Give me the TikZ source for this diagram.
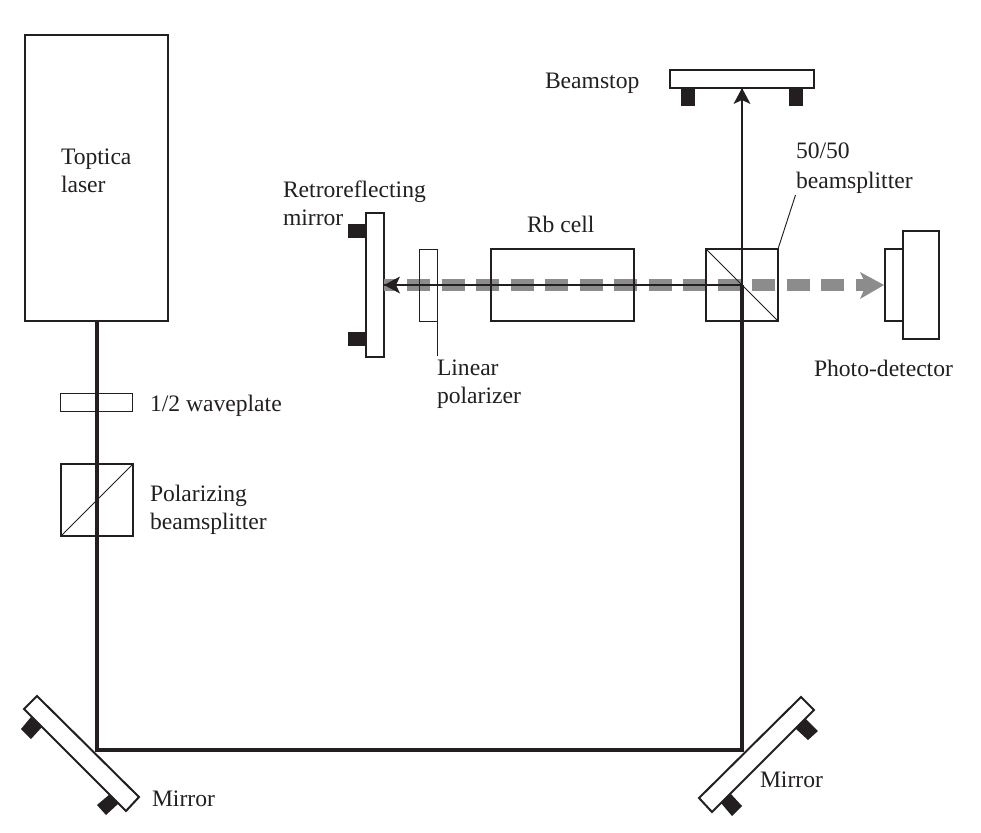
\documentclass[tikz,border=0pt]{standalone}
\usepackage{fontspec}
\setmainfont{Liberation Serif}
\definecolor{ink}{HTML}{231F20}
\definecolor{beamgray}{HTML}{8C8C8C}
\tikzset{
  x=0.75pt,y=-0.75pt,
  txt/.style={anchor=base west,inner sep=0pt,outer sep=0pt,text=ink,font=\fontsize{17.7}{21}\selectfont},
  part/.style={draw=ink,line width=1.5pt,fill=white,inner sep=0pt,outer sep=0pt},
  thinpart/.style={draw=ink,line width=0.6pt,inner sep=0pt,outer sep=0pt},
  block/.style={fill=ink,draw=none},
  mirrorbody/.style={draw=ink,line width=1.5pt,fill=white},
  beam/.style={draw=ink,line width=3pt,line join=miter},
  thinbeam/.style={draw=ink,line width=1.5pt},
  head/.style={fill=ink,draw=none},
  leader/.style={draw=ink,line width=0.7pt},
}
\begin{document}
\begin{tikzpicture}
\useasboundingbox (0,0) rectangle (981,832);
% coordinates
\coordinate (laserout) at (97,321);
\coordinate (cornerL) at (97,750);
\coordinate (cornerR) at (742,750);
\coordinate (split) at (742,285);
\coordinate (stoptip) at (742,88);
\coordinate (retrotip) at (384,285);
\coordinate (grayend) at (870,285);
% mounts
\fill[block] (348,224) rectangle (365,238);
\fill[block] (348,332) rectangle (365,346);
\fill[block] (681,88) rectangle (695,106);
\fill[block] (789,88) rectangle (803,106);
\fill[block] (31,717) -- (42,727) -- (31,739) -- (21,729) -- cycle;
\fill[block] (110,794) -- (119,803) -- (106,815) -- (97,805) -- cycle;
\fill[block] (805,718) -- (818,731) -- (808,740) -- (795,728) -- cycle;
\fill[block] (721,803) -- (730,793) -- (742,806) -- (732,816) -- cycle;
% boxes
\node[part,minimum width=107.25pt,minimum height=214.5pt] (laser) at (96.5,178) {};
\node[part,minimum width=13.5pt,minimum height=108pt] (retro) at (374.5,285) {};
\node[part,minimum width=107.25pt,minimum height=54pt] (rb) at (562.5,285) {};
\node[part,minimum width=108pt,minimum height=13.5pt] (stop) at (742,79) {};
\node[part,minimum width=13.5pt,minimum height=54pt] (det) at (894,285) {};
\node[part,minimum width=27pt,minimum height=81pt] (detbig) at (921,285) {};
\draw[mirrorbody] (37,696) -- (24,709) -- (126,811) -- (139,797) -- cycle;
\draw[mirrorbody] (801,697) -- (814,710) -- (712,812) -- (699,798) -- cycle;
% gray beam
\draw[beamgray,line width=9pt,dash pattern=on 17.25pt off 8.625pt,dash phase=8.625pt] (retrotip) -- (grayend);
\fill[beamgray] (884,285) -- (860,272) -- (866,285) -- (860,299) -- cycle;
% optics outlines
\node[thinpart,minimum width=53.5pt,minimum height=13.5pt] (wave) at (96.5,402) {};
\node[part,minimum width=54pt,minimum height=54pt] (pbs) at (97,500) {};
\node[thinpart,minimum width=13.5pt,minimum height=54pt] (pol) at (428,285) {};
\node[part,fill=none,minimum width=54pt,minimum height=54pt] (bs) at (742,285) {};
\node[part,fill=none,minimum width=107.25pt,minimum height=54pt] (rbo) at (562.5,285) {};
\draw[leader] (pbs.south west) -- (pbs.north east);
\draw[leader] (bs.north west) -- (bs.south east);
% beams
\draw[beam] (laserout) -- (cornerL) -- (cornerR) -- (split);
\draw[thinbeam] (split) -- (stoptip);
\draw[thinbeam] (split) -- (retrotip);
\fill[head] (stoptip) -- (733.5,104) -- (742,100) -- (750.5,104) -- cycle;
\fill[head] (retrotip) -- (400,276.5) -- (396,285) -- (400,293.5) -- cycle;
% leaders
\coordinate (polfoot) at (437,356);
\coordinate (bsfoot) at (795.5,195);
\draw[leader] (pol.south east) -- (polfoot);
\draw[leader] (bs.north east) -- (bsfoot);
% labels
\node[txt] (t1) at (61,164) {Toptica};
\node[txt] (t2) at (61,192.5) {laser};
\node[txt] (t3) at (545,88) {Beamstop};
\node[txt] (t4) at (283,197) {Retroreflecting};
\node[txt] (t5) at (283,225) {mirror};
\node[txt] (t6) at (527,232) {Rb cell};
\node[txt] (t7) at (796,158.5) {50/50};
\node[txt] (t8) at (796,188.5) {beamsplitter};
\node[txt] (t9) at (814,376) {Photo-detector};
\node[txt] (t10) at (437,375) {Linear};
\node[txt] (t11) at (437,403) {polarizer};
\node[txt] (t12) at (150,411) {1/2 waveplate};
\node[txt] (t13) at (150,501) {Polarizing};
\node[txt] (t14) at (150,529) {beamsplitter};
\node[txt] (t15) at (152,806) {Mirror};
\node[txt] (t16) at (760,787) {Mirror};
\end{tikzpicture}
\end{document}
